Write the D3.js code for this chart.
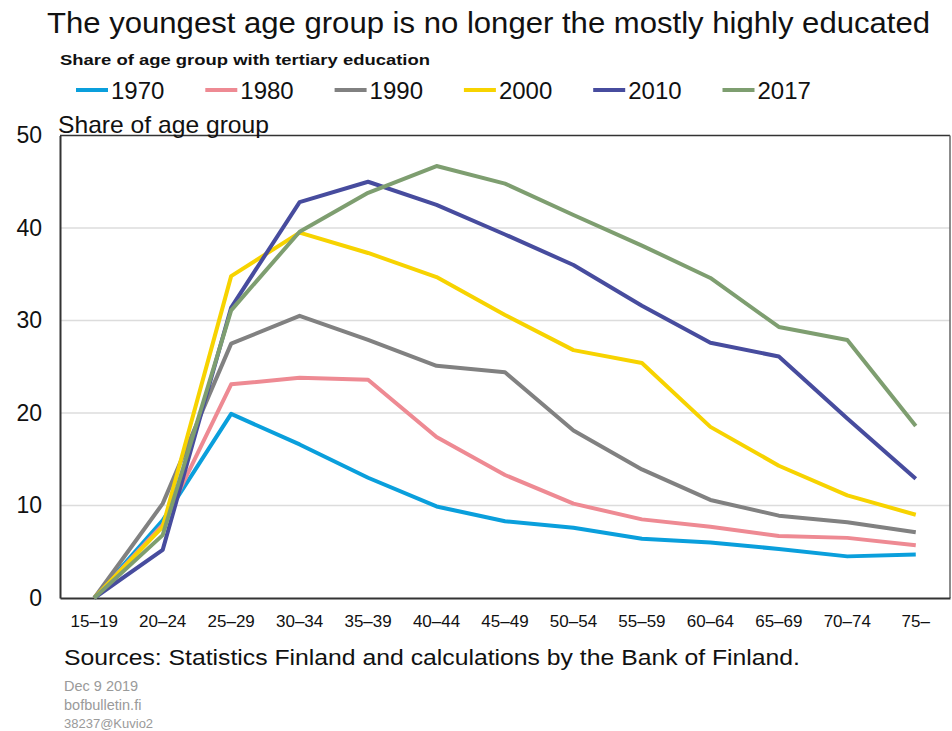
<!DOCTYPE html>
<html>
<head>
<meta charset="utf-8">
<script src="https://cdn.jsdelivr.net/npm/d3@7"></script>
<style>
  body { margin: 0; background: #fff; }
  svg text { font-family: "Liberation Sans", Arial, sans-serif; }
</style>
</head>
<body>
<svg id="chart" width="952" height="731"></svg>
<script>
const categories = ["15–19","20–24","25–29","30–34","35–39","40–44","45–49","50–54","55–59","60–64","65–69","70–74","75–"];
const seriesNames = ["1970","1980","1990","2000","2010","2017"];
const v1970 = [0, 8.4, 19.9, 16.6, 13.0, 9.9, 8.3, 7.6, 6.4, 6.0, 5.3, 4.5, 4.7];
const v1980 = [0, 7.9, 23.1, 23.8, 23.6, 17.4, 13.3, 10.2, 8.5, 7.7, 6.7, 6.5, 5.7];
const v1990 = [0, 10.2, 27.5, 30.5, 27.9, 25.1, 24.4, 18.1, 13.9, 10.6, 8.9, 8.2, 7.1];
const v2000 = [0, 7.7, 34.8, 39.5, 37.3, 34.7, 30.6, 26.8, 25.4, 18.5, 14.3, 11.1, 9.0];
const v2010 = [0, 5.2, 31.4, 42.8, 45.0, 42.5, 39.3, 36.0, 31.6, 27.6, 26.1, 19.4, 12.9];
const v2017 = [0, 6.8, 31.1, 39.6, 43.8, 46.7, 44.8, 41.4, 38.1, 34.6, 29.3, 27.9, 18.6];
const colors = ["#0A9FDC", "#EE8A93", "#818181", "#F7D300", "#474C9E", "#7E9E70"];
const yTicks = [0, 10, 20, 30, 40, 50];

const seriesValues = [v1970, v1980, v1990, v2000, v2010, v2017];

const svg = d3.select("#chart");
const plot = {left: 60, right: 950, top: 135.5, bottom: 598};

const x = d3.scaleBand().domain(categories).range([plot.left, plot.right]);
const y = d3.scaleLinear().domain([0, 50]).range([plot.bottom, plot.top]);

// title
svg.append("text").attr("x", 47).attr("y", 33)
  .attr("font-size", 30).attr("fill", "#111")
  .attr("textLength", 883).attr("lengthAdjust", "spacingAndGlyphs")
  .text("The youngest age group is no longer the mostly highly educated");

svg.append("text").attr("x", 60).attr("y", 65)
  .attr("font-size", 15).attr("font-weight", "bold").attr("fill", "#111")
  .attr("textLength", 370).attr("lengthAdjust", "spacingAndGlyphs")
  .text("Share of age group with tertiary education");

// legend
const leg = svg.append("g");
seriesNames.forEach((n, i) => {
  const gx = 76 + i * 129.3;
  leg.append("line").attr("x1", gx).attr("x2", gx + 32).attr("y1", 90).attr("y2", 90)
    .attr("stroke", colors[i]).attr("stroke-width", 4);
  leg.append("text").attr("x", gx + 35).attr("y", 98.5).attr("font-size", 24).attr("fill", "#111")
    .text(n);
});

// gridlines
svg.append("g").selectAll("line").data(yTicks.filter(t => t > 0 && t < 50)).join("line")
  .attr("x1", plot.left).attr("x2", plot.right)
  .attr("y1", d => y(d)).attr("y2", d => y(d))
  .attr("stroke", "#dcdcdc").attr("stroke-width", 1.5);

// frame top & right
svg.append("line").attr("x1", plot.left).attr("x2", plot.right).attr("y1", plot.top).attr("y2", plot.top)
  .attr("stroke", "#333").attr("stroke-width", 1.5);
svg.append("line").attr("x1", plot.right).attr("x2", plot.right).attr("y1", plot.top).attr("y2", plot.bottom)
  .attr("stroke", "#666").attr("stroke-width", 1.5);

// y axis
const yAxis = svg.append("g").attr("transform", `translate(${plot.left},0)`)
  .call(d3.axisLeft(y).tickValues(yTicks).tickSize(0).tickPadding(18));
yAxis.select(".domain").attr("stroke", "#333").attr("stroke-width", 2);
yAxis.selectAll("text").attr("font-size", 23).attr("fill", "#111")
  .attr("font-family", "Liberation Sans, Arial, sans-serif");

// x axis
const xAxis = svg.append("g").attr("transform", `translate(0,${plot.bottom})`)
  .call(d3.axisBottom(x).tickSize(0).tickPadding(17));
xAxis.select(".domain").attr("stroke", "#333").attr("stroke-width", 2);
xAxis.selectAll("text").attr("font-size", 17).attr("fill", "#111")
  .attr("font-family", "Liberation Sans, Arial, sans-serif");

// axis title
svg.append("text").attr("x", 58).attr("y", 132.5).attr("font-size", 24).attr("fill", "#111")
  .attr("textLength", 211).attr("lengthAdjust", "spacingAndGlyphs")
  .text("Share of age group");

// lines
const line = d3.line().x((d, i) => x(categories[i]) + x.bandwidth() / 2).y(d => y(d));
svg.append("g").selectAll("path").data(seriesValues).join("path")
  .attr("d", d => line(d))
  .attr("fill", "none")
  .attr("stroke", (d, i) => colors[i])
  .attr("stroke-width", 4)
  .attr("stroke-linejoin", "round");

// sources
svg.append("text").attr("x", 64).attr("y", 665).attr("font-size", 22).attr("fill", "#111")
  .attr("textLength", 736).attr("lengthAdjust", "spacingAndGlyphs")
  .text("Sources: Statistics Finland and calculations by the Bank of Finland.");

const foot = ["Dec 9 2019", "bofbulletin.fi", "38237@Kuvio2"];
foot.forEach((t, i) => {
  svg.append("text").attr("x", 64).attr("y", 691 + i * 18.5)
    .attr("font-size", i === 2 ? 13 : 14.5).attr("fill", "#9a9a9a").text(t);
});
</script>
</body>
</html>
